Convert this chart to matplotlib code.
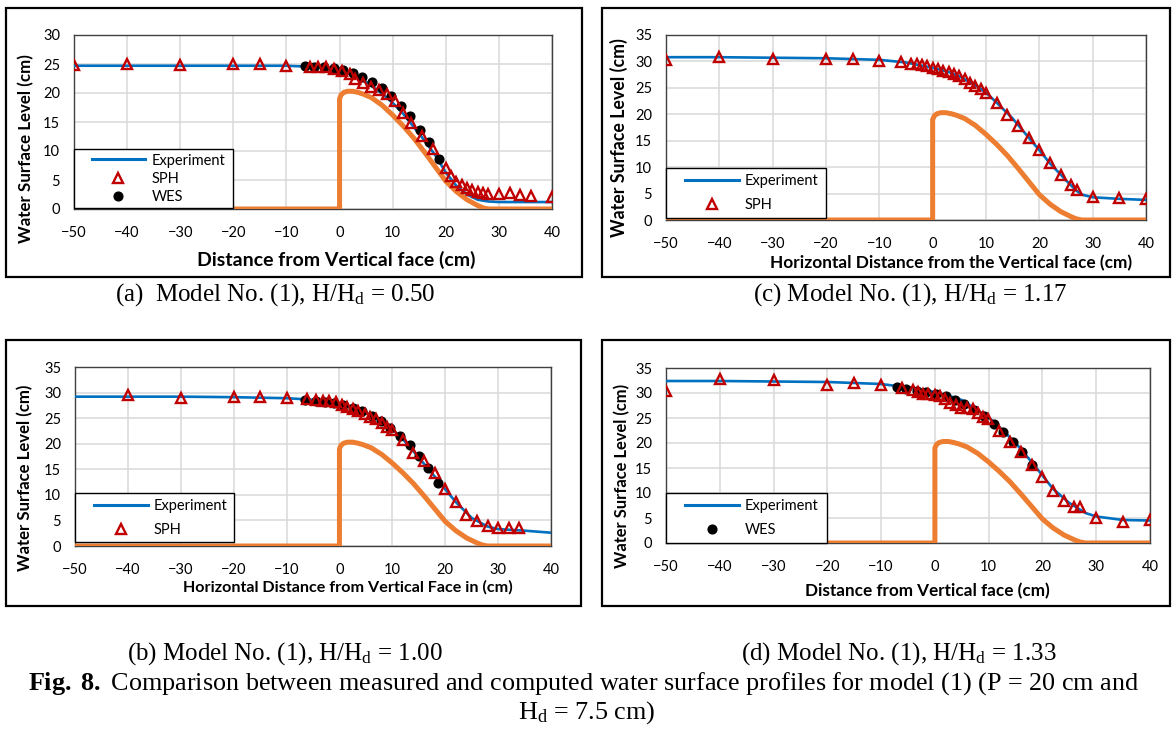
import matplotlib
matplotlib.use("Agg")
import matplotlib.pyplot as plt
from matplotlib.patches import Rectangle
from matplotlib.lines import Line2D
from matplotlib.legend_handler import HandlerLine2D

plt.rcParams["font.family"] = ["Lato", "DejaVu Sans"]
plt.rcParams["mathtext.fontset"] = "custom"
plt.rcParams["mathtext.rm"] = "Liberation Serif"
plt.rcParams["mathtext.bf"] = "Liberation Serif:bold"
plt.rcParams["mathtext.it"] = "Liberation Serif:italic"

# ---- ogee crest profile (same spillway in all runs) ----
crest_x = [-50, 0, 0, 0.3, 0.8, 1.5, 2.5, 3.5, 4.5, 6, 8, 10, 12, 14, 16, 18, 20, 22, 24, 26, 27, 28, 40]
crest_y = [0, 0, 19.0, 19.7, 20.1, 20.3, 20.3, 20.1, 19.8, 19.2, 17.9, 16.2, 14.3, 12.2, 9.8, 7.3, 4.8, 3.0, 1.6, 0.6, 0.2, 0, 0]

# ---- (a) H/Hd = 0.50 ----
exp_a_x = [-50, -40, -30, -20, -10, -5, 0, 3, 5, 8, 10, 12, 14, 16, 18, 20, 22, 24, 26, 28, 30, 35, 40]
exp_a_y = [24.7, 24.7, 24.7, 24.7, 24.7, 24.5, 23.9, 22.9, 21.9, 19.9, 18.3, 16.4, 14.1, 11.8, 9.3, 6.3, 4.0, 2.5, 1.6, 1.3, 1.2, 1.2, 1.2]
sph_a_x = [-50, -40, -30, -20, -15, -10, -5.5, -4, -2.5, -1, 0.5, 2, 3, 4.5, 6, 7.5, 9, 10.5, 12, 13.5, 15.5, 17.5,
           20, 21, 22, 23, 24, 25, 26, 27, 28, 30, 32, 34, 36, 40]
sph_a_y = [24.9, 25.0, 24.9, 25.0, 25.0, 24.6, 24.5, 24.5, 24.4, 24.2, 23.8, 23.2, 22.5, 21.8, 21.1, 20.5, 19.8, 18.6,
           16.6, 14.9, 12.6, 10.4, 7.1, 5.7, 4.7, 4.2, 3.7, 3.3, 2.9, 2.7, 2.6, 2.6, 2.8, 2.5, 2.2, 2.1]
wes_a_x = [-6.6, -4.8, -3.0, -1.1, 0.7, 2.5, 4.3, 6.1, 7.9, 9.6, 11.5, 13.3, 15.1, 16.9, 18.7]
wes_a_y = [24.6, 24.5, 24.5, 24.3, 24.0, 23.4, 22.8, 21.9, 20.9, 19.4, 17.8, 16.0, 13.7, 11.5, 8.7]

# ---- (b) H/Hd = 1.00 ----
exp_b_x = [-50, -40, -30, -20, -10, -5, 0, 3, 5, 8, 10, 12, 15, 18, 20, 22, 25, 28, 30, 35, 40]
exp_b_y = [29.2, 29.2, 29.2, 29.1, 28.9, 28.6, 27.7, 26.9, 26.1, 24.3, 22.8, 20.9, 17.3, 13.6, 11.1, 8.6, 5.5, 3.8, 3.3, 3.0, 2.6]
sph_b_x = [-40, -30, -20, -15, -10, -6.2, -4.5, -3.2, -1.9, -0.7, 0.4, 1.5, 2.5, 3.6, 4.8, 5.8, 6.9, 8, 9, 10,
           12, 14, 16, 18, 20, 22, 24, 26, 28, 30, 32, 34]
sph_b_y = [29.5, 28.9, 29.1, 29.1, 28.9, 28.8, 28.5, 28.4, 28.3, 28.1, 27.6, 27.1, 26.8, 26.3, 25.8, 25.3, 24.9, 24.1,
           23.3, 22.7, 20.8, 18.2, 16.6, 14.2, 11.2, 8.7, 6.0, 4.8, 4.0, 3.5, 3.5, 3.5]
wes_b_x = [-6.5, -4.5, -2.8, -1.1, 0.7, 2.5, 4.2, 6.1, 7.9, 9.6, 11.5, 13.3, 15.1, 16.8, 18.6]
wes_b_y = [28.6, 28.3, 28.2, 28.0, 27.5, 27.0, 26.3, 25.4, 24.5, 23.1, 21.5, 19.7, 17.6, 15.2, 12.4]

# ---- (c) H/Hd = 1.17 ----
exp_c_x = [-50, -40, -30, -20, -10, -5, 0, 3, 5, 8, 10, 12, 15, 18, 20, 22, 24, 25, 26, 27, 28, 30, 35, 40]
exp_c_y = [30.8, 30.8, 30.7, 30.6, 30.3, 29.8, 28.8, 28.0, 27.2, 25.5, 24.1, 22.2, 19.2, 15.6, 13.2, 10.7, 8.6, 7.5,
           6.5, 5.5, 4.8, 4.3, 4.0, 3.8]
sph_c_x = [-50, -40, -30, -20, -15, -10, -6, -4, -3, -2, -1, 0, 1, 2, 3, 4, 5, 6, 7, 8, 9, 10, 12, 14, 16, 18,
           20, 22, 24, 26, 27, 30, 35, 40]
sph_c_y = [30.3, 30.8, 30.5, 30.5, 30.4, 30.1, 29.9, 29.6, 29.5, 29.4, 29.2, 28.7, 28.5, 28.2, 28.0, 27.7, 27.2, 26.6,
           26.0, 25.4, 24.7, 24.0, 22.1, 19.9, 17.8, 15.6, 13.2, 10.7, 8.5, 6.6, 5.7, 4.4, 4.1, 3.9]

# ---- (d) H/Hd = 1.33 ----
exp_d_x = [-50, -40, -30, -20, -10, -5, 0, 3, 5, 8, 10, 12, 15, 18, 20, 22, 25, 28, 30, 35, 40]
exp_d_y = [32.4, 32.4, 32.3, 32.2, 31.8, 31.1, 30.2, 29.3, 28.6, 26.5, 25.1, 23.2, 20.0, 16.2, 13.5, 10.8, 8.0, 6.0, 5.3, 4.6, 4.5]
sph_d_x = [-50, -40, -30, -20, -15, -10, -6.2, -4, -3.1, -2.2, -1.2, 0.1, 0.9, 1.9, 2.9, 3.9, 4.9, 6, 7.1, 8, 9, 9.9,
           12, 14, 16, 18, 20, 22, 24, 25.9, 27, 29.9, 35, 40]
sph_d_y = [30.5, 32.9, 32.6, 31.6, 32.1, 31.6, 31.1, 30.7, 30.3, 29.9, 29.8, 29.6, 29.4, 28.8, 28.1, 27.7, 27.1, 27.0,
           26.8, 26.0, 25.2, 24.9, 22.4, 20.3, 18.3, 15.6, 13.2, 10.5, 8.4, 7.2, 7.2, 5.0, 4.2, 4.7]
wes_d_x = [-7, -5.3, -3.3, -1.6, 0.2, 2, 3.8, 5.5, 7.2, 9.1, 10.9, 12.7, 14.5, 16.2, 18.1]
wes_d_y = [31.2, 30.8, 30.4, 30.2, 29.9, 29.4, 28.6, 27.8, 26.7, 25.4, 23.8, 22.3, 20.2, 18.2, 15.6]

x_ticks = list(range(-50, 41, 10))

BLUE = "#0070C0"
ORANGE = "#ED7D31"
RED = "#C00000"
W, H = 1173, 730


def px_axes(fig, x0, y0, x1, y1):
    """axes from pixel box (top-left origin)"""
    return fig.add_axes([x0 / W, 1 - y1 / H, (x1 - x0) / W, (y1 - y0) / H])


def px_frame(fig, x0, y0, x1, y1):
    fig.add_artist(Rectangle((x0 / W, 1 - y1 / H), (x1 - x0) / W, (y1 - y0) / H,
                             transform=fig.transFigure, fill=False, ec="black", lw=1.6))


def panel(ax, exp_x, exp_y, sph=None, wes=None, ymax=35, legend_keys=("exp", "sph", "wes"),
          xlabel="", xl_pos=(0.55, -0.27), xl_size=11, yl_pos=(-0.1, 0.38), yl_size=11,
          leg_y=0.01, leg_space=0.6, leg_pad=0.35):
    ax.plot(crest_x, crest_y, color=ORANGE, lw=3.6, solid_joinstyle="round", zorder=3)
    ax.plot(exp_x, exp_y, color=BLUE, lw=1.9, zorder=4)
    if sph is not None:
        ax.plot(sph[0], sph[1], ls="none", marker="^", ms=7, mfc="none", mec=RED, mew=1.7, zorder=6)
    if wes is not None:
        ax.plot(wes[0], wes[1], ls="none", marker="o", ms=6.3, mfc="black", mec="black", zorder=5)

    ax.set_xlim(-50, 40)
    ax.set_ylim(0, ymax)
    ax.set_xticks(x_ticks)
    ax.set_yticks(range(0, ymax + 1, 5))
    ax.grid(color="#d9d9d9", lw=1.1)
    ax.set_axisbelow(True)
    ax.tick_params(length=0, labelsize=10.5)
    ax.tick_params(axis="x", pad=12)
    ax.tick_params(axis="y", pad=10)
    for s in ax.spines.values():
        s.set_color("#404040")
        s.set_linewidth(1.0)

    ax.set_ylabel("Water Surface Level (cm)", fontsize=yl_size, fontweight="bold", va="center")
    ax.yaxis.set_label_coords(*yl_pos)
    ax.set_xlabel(xlabel, fontsize=xl_size, fontweight="bold", va="center")
    ax.xaxis.set_label_coords(*xl_pos)

    handles = {
        "exp": Line2D([], [], color=BLUE, lw=2.2),
        "sph": Line2D([], [], ls="none", marker="^", ms=7, mfc="none", mec=RED, mew=1.7),
        "wes": Line2D([], [], ls="none", marker="o", ms=6.3, mfc="black", mec="black"),
    }
    names = {"exp": "Experiment", "sph": "SPH", "wes": "WES"}
    leg = ax.legend([handles[k] for k in legend_keys], [names[k] for k in legend_keys],
                    loc="lower left", bbox_to_anchor=(0.0, leg_y, 0.333, 0.7), mode="expand",
                    borderaxespad=0, fontsize=10.5, handlelength=4.6, handletextpad=0.4,
                    labelspacing=leg_space, borderpad=leg_pad, fancybox=False, framealpha=1,
                    handler_map={Line2D: HandlerLine2D(xpad=0.9)})
    leg.get_frame().set_edgecolor("black")
    leg.get_frame().set_linewidth(1.0)
    leg.set_zorder(10)


fig = plt.figure(figsize=(W / 100, H / 100), dpi=100)

# frames around each chart
px_frame(fig, 6, 8, 582, 277)
px_frame(fig, 602, 8, 1170, 277)
px_frame(fig, 6, 340, 581, 606)
px_frame(fig, 602, 340, 1170, 606)

ax_a = px_axes(fig, 74, 35, 552, 209)
panel(ax_a, exp_a_x, exp_a_y, sph=(sph_a_x, sph_a_y), wes=(wes_a_x, wes_a_y), ymax=30,
      legend_keys=("exp", "sph", "wes"), xlabel="Distance from Vertical face (cm)",
      xl_pos=(0.548, -0.29), xl_size=14, yl_pos=(-0.1, 0.35), yl_size=12.2,
      leg_y=0.005, leg_space=0.28, leg_pad=0.3)

ax_c = px_axes(fig, 666, 35, 1146, 220)
panel(ax_c, exp_c_x, exp_c_y, sph=(sph_c_x, sph_c_y), ymax=35,
      legend_keys=("exp", "sph"), xlabel="Horizontal Distance from the Vertical face (cm)",
      xl_pos=(0.594, -0.232), xl_size=12.4, yl_pos=(-0.098, 0.446), yl_size=12.8,
      leg_y=0.01, leg_space=0.72, leg_pad=0.4)

ax_b = px_axes(fig, 75, 367, 551, 546)
panel(ax_b, exp_b_x, exp_b_y, sph=(sph_b_x, sph_b_y), wes=(wes_b_x, wes_b_y), ymax=35,
      legend_keys=("exp", "sph"), xlabel="Horizontal Distance from Vertical Face in (cm)",
      xl_pos=(0.574, -0.232), xl_size=11.6, yl_pos=(-0.104, 0.38), yl_size=12.1,
      leg_y=0.02, leg_space=0.68, leg_pad=0.38)

ax_d = px_axes(fig, 666, 368, 1150, 543)
panel(ax_d, exp_d_x, exp_d_y, sph=(sph_d_x, sph_d_y), wes=(wes_d_x, wes_d_y), ymax=35,
      legend_keys=("exp", "wes"), xlabel="Distance from Vertical face (cm)",
      xl_pos=(0.541, -0.274), xl_size=12.3, yl_pos=(-0.09, 0.386), yl_size=11.9,
      leg_y=0.0, leg_space=0.68, leg_pad=0.4)

# sub-captions and figure caption
cap_kw = dict(family="Liberation Serif", ha="center", va="center")
fig.text(275 / W, 1 - 295 / H, r"(a)  Model No. (1), H/H$_\mathrm{d}$ = 0.50", fontsize=18, **cap_kw)
fig.text(910 / W, 1 - 295 / H, r"(c) Model No. (1), H/H$_\mathrm{d}$ = 1.17", fontsize=18, **cap_kw)
fig.text(285 / W, 1 - 654 / H, r"(b) Model No. (1), H/H$_\mathrm{d}$ = 1.00", fontsize=18, **cap_kw)
fig.text(899 / W, 1 - 654 / H, r"(d) Model No. (1), H/H$_\mathrm{d}$ = 1.33", fontsize=18, **cap_kw)
fig.text(584 / W, 1 - 684 / H,
         r"$\mathbf{Fig.\ 8.}$ Comparison between measured and computed water surface profiles "
         r"for model (1) (P = 20 cm and", fontsize=18.8, **cap_kw)
fig.text(587 / W, 1 - 713 / H, r"H$_\mathrm{d}$ = 7.5 cm)", fontsize=18.8, **cap_kw)

fig.savefig("out.png", dpi=100)
